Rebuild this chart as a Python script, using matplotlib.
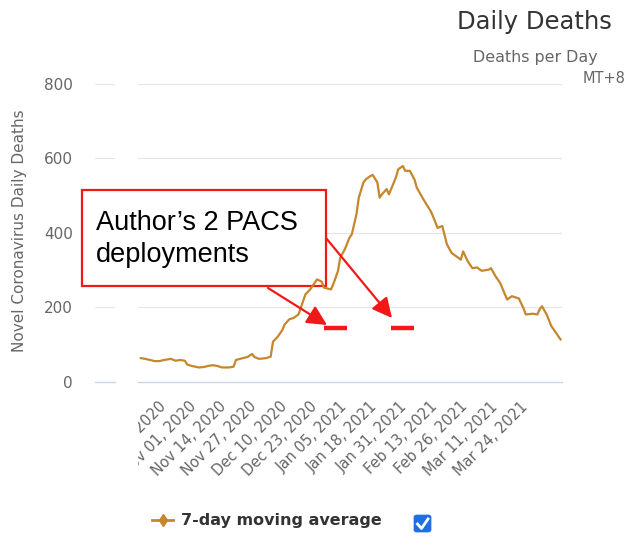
import matplotlib
matplotlib.use("Agg")
import pandas as pd
import matplotlib.pyplot as plt
from matplotlib.lines import Line2D
from matplotlib.patches import Rectangle, FancyBboxPatch, FancyArrowPatch
from matplotlib.transforms import Bbox, TransformedBbox

W, H = 634, 536

# 7-day moving average of daily deaths
dates = [
    "2020-10-09", "2020-10-11", "2020-10-13", "2020-10-15", "2020-10-17", "2020-10-19",
    "2020-10-22", "2020-10-24", "2020-10-26", "2020-10-28", "2020-10-29", "2020-10-31",
    "2020-11-03", "2020-11-05", "2020-11-07", "2020-11-09", "2020-11-11", "2020-11-13",
    "2020-11-16", "2020-11-18", "2020-11-19", "2020-11-22", "2020-11-24", "2020-11-26",
    "2020-11-27", "2020-11-29", "2020-12-02", "2020-12-04", "2020-12-05", "2020-12-07",
    "2020-12-09", "2020-12-10", "2020-12-12", "2020-12-14", "2020-12-16", "2020-12-18",
    "2020-12-19", "2020-12-21", "2020-12-23", "2020-12-24", "2020-12-26", "2020-12-27",
    "2020-12-30", "2020-12-31", "2021-01-02", "2021-01-03", "2021-01-05", "2021-01-07",
    "2021-01-08", "2021-01-10", "2021-01-11", "2021-01-13", "2021-01-14", "2021-01-16",
    "2021-01-17", "2021-01-19", "2021-01-20", "2021-01-21", "2021-01-23", "2021-01-24",
    "2021-01-27", "2021-01-28", "2021-01-30", "2021-01-31", "2021-02-02", "2021-02-04",
    "2021-02-05", "2021-02-08", "2021-02-11", "2021-02-12", "2021-02-14", "2021-02-16",
    "2021-02-18", "2021-02-20", "2021-02-22", "2021-02-24", "2021-02-25", "2021-02-27",
    "2021-03-01", "2021-03-03", "2021-03-05", "2021-03-08", "2021-03-09", "2021-03-11",
    "2021-03-13", "2021-03-15", "2021-03-16", "2021-03-18", "2021-03-21", "2021-03-23",
    "2021-03-24", "2021-03-27", "2021-03-29", "2021-03-30", "2021-03-31", "2021-04-02",
    "2021-04-04", "2021-04-05", "2021-04-08",
]
deaths = [
    64, 62, 59, 56, 56, 59,
    62, 57, 59, 57, 47, 43,
    39, 40, 43, 45, 43, 39,
    39, 41, 59, 64, 67, 75,
    67, 62, 64, 68, 108, 121,
    139, 154, 168, 172, 181, 217,
    235, 248, 266, 275, 269, 253,
    248, 262, 297, 333, 356, 387,
    396, 450, 494, 535, 543, 552,
    555, 535, 494, 503, 517, 503,
    548, 570, 579, 566, 566, 543,
    521, 488, 458, 444, 413, 418,
    369, 346, 337, 328, 350, 323,
    305, 307, 298, 301, 305, 283,
    265, 235, 221, 230, 224, 198,
    181, 183, 181, 195, 203, 181,
    150, 141, 114,
]

tick_dates = ["2020-10-19", "2020-11-01", "2020-11-14", "2020-11-27", "2020-12-10",
              "2020-12-23", "2021-01-05", "2021-01-18", "2021-01-31", "2021-02-13",
              "2021-02-26", "2021-03-11", "2021-03-24"]
tick_labels = ["Oct 19, 2020", "Nov 01, 2020", "Nov 14, 2020", "Nov 27, 2020",
               "Dec 10, 2020", "Dec 23, 2020", "Jan 05, 2021", "Jan 18, 2021",
               "Jan 31, 2021", "Feb 13, 2021", "Feb 26, 2021", "Mar 11, 2021",
               "Mar 24, 2021"]
y_ticks = [0, 200, 400, 600, 800]

# the two red marks (PACS deployments)
deploy_start = ["2020-12-27", "2021-01-25"]
deploy_end = ["2021-01-06", "2021-02-04"]
deploy_level = [144, 144]

LINE_COLOR = "#c5862c"
GRID = "#e6e6e6"
AXIS_LINE = "#ccd6eb"
RED = "#f21818"


def fx(px):
    return px / W


def fy(py):
    return 1 - py / H


fig = plt.figure(figsize=(W / 100, H / 100), dpi=100)

bottom = fy(382)
height = (382 - 83.5) / H

# little leftover piece of the axis on the left (holds the y labels)
stub = fig.add_axes([fx(95), bottom, fx(115) - fx(95), height])
stub.set_ylim(0, 800)
stub.set_xlim(0, 1)
stub.set_yticks(y_ticks)
stub.set_yticklabels([str(v) for v in y_ticks])
stub.set_xticks([])
stub.tick_params(axis="y", length=0, pad=16, labelsize=11, labelcolor="#666666")
stub.grid(axis="y", color=GRID, lw=0.8)
for s in ["top", "left", "right"]:
    stub.spines[s].set_visible(False)
stub.spines["bottom"].set_color(AXIS_LINE)
stub.spines["bottom"].set_linewidth(1)

ax = fig.add_axes([fx(138), bottom, fx(562) - fx(138), height])
x = pd.to_datetime(dates)
ax.plot(x, deaths, color=LINE_COLOR, lw=1.6, zorder=4)
ax.hlines(deploy_level, pd.to_datetime(deploy_start), pd.to_datetime(deploy_end),
          color=RED, lw=3.2, zorder=5)

ax.set_ylim(0, 800)
ax.set_yticks(y_ticks)
ax.set_xlim(pd.Timestamp("2020-10-07 19:00"), pd.Timestamp("2021-04-08 15:00"))
ax.set_xticks(pd.to_datetime(tick_dates))
ax.set_xticklabels(tick_labels)
ax.tick_params(axis="x", length=0, pad=16, labelsize=10.5, labelcolor="#666666")
ax.tick_params(axis="y", length=0, labelleft=False)
ax.grid(axis="y", color=GRID, lw=0.8)
ax.set_axisbelow(True)
for s in ["top", "left", "right"]:
    ax.spines[s].set_visible(False)
ax.spines["bottom"].set_color(AXIS_LINE)
ax.spines["bottom"].set_linewidth(1)

clip = TransformedBbox(Bbox.from_extents(fx(138), 0, 1, 1), fig.transFigure)
for lbl in ax.get_xticklabels():
    lbl.set_rotation(45)
    lbl.set_ha("right")
    lbl.set_va("center")
    lbl.set_rotation_mode("anchor")
    lbl.set_clip_box(clip)
    lbl.set_clip_on(True)

# titles
fig.text(fx(534), fy(29), "Daily Deaths", ha="center", va="baseline",
         fontsize=17.5, color="#333333")
fig.text(fx(535), fy(62), "Deaths per Day", ha="center", va="baseline",
         fontsize=11.4, color="#666666")
fig.text(fx(583), fy(83), "MT+8", ha="left", va="baseline",
         fontsize=10.5, color="#666666")
fig.text(fx(20), fy(231), "Novel Coronavirus Daily Deaths", rotation=90,
         ha="center", va="center", fontsize=11, color="#666666")

# annotation box + arrows
box = Rectangle((fx(82), fy(286)), fx(326) - fx(82), (286 - 190) / H,
                transform=fig.transFigure, facecolor="white", edgecolor=RED,
                lw=1.6, clip_on=False, zorder=3)
ax.add_patch(box)
ax.text(fx(96), fy(230), "Author\u2019s 2 PACS", transform=fig.transFigure,
        fontsize=19.5, family="Liberation Sans", color="black", va="baseline",
        zorder=6, clip_on=False)
ax.text(fx(96), fy(262), "deployments", transform=fig.transFigure,
        fontsize=19.5, family="Liberation Sans", color="black", va="baseline",
        zorder=6, clip_on=False)

for (x0, y0), (x1, y1) in [((268, 288), (327, 325)), ((326, 238), (392, 318))]:
    arr = FancyArrowPatch((fx(x0), fy(y0)), (fx(x1), fy(y1)),
                          transform=fig.transFigure,
                          arrowstyle="-|>,head_length=0.8,head_width=0.4",
                          mutation_scale=15, color=RED, lw=1.6,
                          shrinkA=0, shrinkB=0, zorder=6, clip_on=False)
    ax.add_patch(arr)

# legend
handle = Line2D([], [], color=LINE_COLOR, lw=2, marker="d", markersize=6)
fig.legend([handle], ["7-day moving average"], loc="center left",
           bbox_to_anchor=(fx(138), fy(521)), frameon=False, handlelength=1.3,
           handletextpad=0.5, prop={"weight": "bold", "size": 11.5},
           labelcolor="#333333")

cb = FancyBboxPatch((fx(414), fy(532)), fx(431) - fx(414), (532 - 515) / H,
                    boxstyle="round,pad=0,rounding_size=0.004",
                    transform=fig.transFigure, facecolor="#1f6fe3",
                    edgecolor="#1f6fe3", lw=0.5)
fig.add_artist(cb)
fig.add_artist(Line2D([fx(417.5), fx(421.5), fx(428)], [fy(524), fy(528.5), fy(519)],
                      transform=fig.transFigure, color="white", lw=2))

fig.savefig("out.png", dpi=100)
